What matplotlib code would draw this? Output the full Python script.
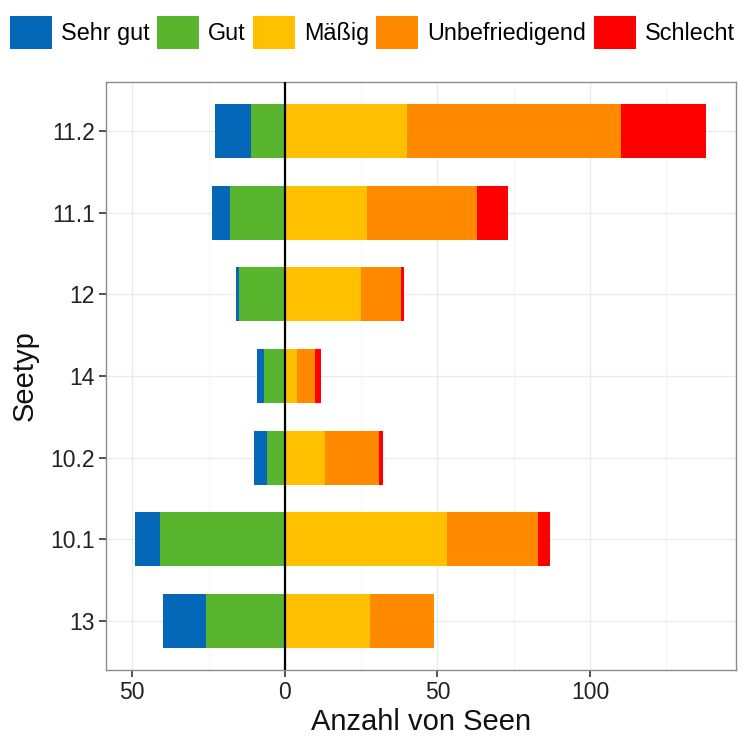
import numpy as np
import matplotlib
matplotlib.use("Agg")
import matplotlib.pyplot as plt
from matplotlib.patches import Patch

plt.rcParams['font.family'] = ['Liberation Sans', 'DejaVu Sans']

# Daten
seetyp = ['11.2', '11.1', '12', '14', '10.2', '10.1', '13']
sehr_gut = [12, 6, 1, 2, 4, 8, 14]
gut = [11, 18, 15, 7, 6, 41, 26]
maessig = [40, 27, 25, 4, 13, 53, 28]
unbefr = [70, 36, 13, 6, 18, 30, 21]
schlecht = [28, 10, 1, 2, 1, 4, 0]

labels = ['Sehr gut', 'Gut', 'Mäßig', 'Unbefriedigend', 'Schlecht']
farben = ['#0567B8', '#5AB52E', '#FFC000', '#FF8A00', '#FF0000']

fig = plt.figure(figsize=(7.45, 7.42), dpi=100)
ax = fig.add_axes([106 / 745, 72 / 742, 630 / 745, 588 / 742])

y = np.arange(len(seetyp))[::-1]
h = 0.66

sg = np.array(sehr_gut)
g = np.array(gut)
m = np.array(maessig)
u = np.array(unbefr)
s = np.array(schlecht)

# linke Seite (gut)
ax.barh(y, -g, height=h, color=farben[1], zorder=2)
ax.barh(y, -sg, left=-g, height=h, color=farben[0], zorder=2)
# rechte Seite (schlecht)
ax.barh(y, m, height=h, color=farben[2], zorder=2)
ax.barh(y, u, left=m, height=h, color=farben[3], zorder=2)
ax.barh(y, s, left=m + u, height=h, color=farben[4], zorder=2)

ax.axvline(0, color='black', lw=1.6, zorder=3)

ax.set_xlim(-58.6, 147.8)
ax.set_ylim(-0.6, len(seetyp) - 0.4)
ax.set_xticks([-50, 0, 50, 100])
ax.set_xticklabels(['50', '0', '50', '100'])
ax.set_xticks([-25, 25, 75, 125], minor=True)
ax.set_yticks(y)
ax.set_yticklabels(seetyp)

ax.grid(which='major', color='#EBEBEB', lw=1.0, zorder=0)
ax.grid(which='minor', axis='x', color='#F4F4F4', lw=0.6, zorder=0)
ax.set_axisbelow(True)
for sp in ax.spines.values():
    sp.set_color('#8C8C8C')
    sp.set_linewidth(1.0)

ax.tick_params(axis='both', which='major', labelsize=16.5, length=5, width=1.2,
               color='#333333', labelcolor='#222222', pad=3)
ax.tick_params(axis='x', which='minor', length=0)
ax.set_xlabel('Anzahl von Seen', fontsize=21, color='#111111', labelpad=3)
ax.set_ylabel('Seetyp', fontsize=21, color='#111111', labelpad=8)

handles = [Patch(facecolor=c, edgecolor='none') for c in farben]
fig.legend(handles, labels, loc='upper center', bbox_to_anchor=(0.5, 1.0), ncol=5,
           frameon=False, fontsize=16.8, handlelength=1.8, handleheight=1.8,
           handletextpad=0.4, columnspacing=0.3, borderaxespad=0.3)

fig.savefig('out.png', dpi=100)
